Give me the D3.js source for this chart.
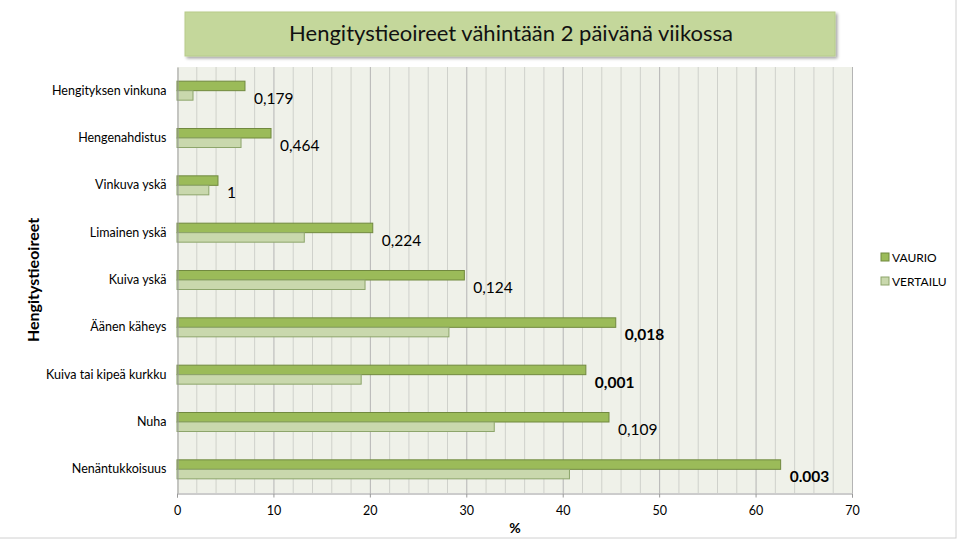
<!DOCTYPE html>
<html><head><meta charset="utf-8">
<script src="https://cdn.jsdelivr.net/npm/d3@7"></script>
<style>body{margin:0;background:#fff}svg{display:block}text{font-family:Lato,"Open Sans",sans-serif}</style>
</head><body><svg id="c" width="960" height="540"></svg>
<script>
const categories = ["Hengityksen vinkuna","Hengenahdistus","Vinkuva yskä","Limainen yskä","Kuiva yskä","Äänen käheys","Kuiva tai kipeä kurkku","Nuha","Nenäntukkoisuus"];
const seriesNames = ["VAURIO","VERTAILU"];
const vaurio = [7.05, 9.75, 4.25, 20.3, 29.8, 45.5, 42.4, 44.8, 62.6];
const vertailu = [1.66, 6.64, 3.3, 13.2, 19.5, 28.2, 19.1, 32.9, 40.7];
const pValues = ["0,179","0,464","1","0,224","0,124","0,018","0,001","0,109","0.003"];
const pBold = [false,false,false,false,false,true,true,false,true];
const xTicks = [0,10,20,30,40,50,60,70];
const title = "Hengitystieoireet vähintään 2 päivänä viikossa";
const yTitle = "Hengitystieoireet";
const xTitle = "%";

const svg = d3.select("#c");
const L=177, R=852, T=67, B=493;
const colors = {VAURIO:{fill:"#9bbb59",stroke:"#71893f"}, VERTAILU:{fill:"#c9d8ad",stroke:"#8da56b"}};

svg.append("rect").attr("x",-1).attr("y",-1).attr("width",957).attr("height",539).attr("fill","none").attr("stroke","#d0d0d0");

const x = d3.scaleLinear().domain([0,70]).range([L,R]);
const y = d3.scaleBand().domain(categories).range([T,B]);
const inner = d3.scaleBand().domain(seriesNames).range([0,19]);

svg.append("rect").attr("x",L).attr("y",T).attr("width",R-L).attr("height",B-T).attr("fill","#eff1e9");
svg.append("g").selectAll("line").data(d3.range(2,70,2).filter(v=>v%10!==0)).join("line")
  .attr("x1",d=>x(d)+0.5).attr("x2",d=>x(d)+0.5).attr("y1",T).attr("y2",B).attr("stroke","#cfd1cb");
svg.append("g").selectAll("line").data(xTicks.slice(1)).join("line")
  .attr("x1",d=>x(d)+0.5).attr("x2",d=>x(d)+0.5).attr("y1",T).attr("y2",B).attr("stroke","#b4b4b4");

const rows = categories.map((c,i)=>({c, VAURIO:vaurio[i], VERTAILU:vertailu[i], p:pValues[i], b:pBold[i]}));
const g = svg.append("g");
seriesNames.forEach(s=>{
  g.selectAll("rect."+s).data(rows).join("rect").attr("class",s)
    .attr("x",x(0)).attr("y",d=>y(d.c)+y.bandwidth()/2-9.5+inner(s))
    .attr("width",d=>x(d[s])-x(0)).attr("height",inner.bandwidth())
    .attr("fill",colors[s].fill).attr("stroke",colors[s].stroke).attr("stroke-width",1);
});

svg.append("g").selectAll("text").data(rows).join("text")
  .attr("x",d=>x(Math.max(d.VAURIO,d.VERTAILU))+9)
  .attr("y",d=>y(d.c)+y.bandwidth()/2+13)
  .attr("font-size",15.5).attr("font-weight",d=>d.b?"bold":"normal").attr("fill","#000")
  .text(d=>d.p);

const xa = svg.append("g").attr("transform",`translate(0,${B+0.5})`)
  .call(d3.axisBottom(x).tickValues(xTicks).tickSize(4).tickPadding(9).tickFormat(d3.format("d")));
xa.select(".domain").attr("stroke","#999");
xa.selectAll(".tick line").attr("stroke","#999");
xa.selectAll("text").attr("font-size",12.5).attr("fill","#000").attr("font-family","Lato,sans-serif");

const ya = svg.append("g").attr("transform",`translate(${L+0.5},0)`)
  .call(d3.axisLeft(y).tickSize(0).tickPadding(11));
ya.select(".domain").attr("stroke","#999");
ya.selectAll("text").attr("font-size",12.5).attr("fill","#000").attr("font-family","Lato,sans-serif");

svg.append("text").attr("x",515).attr("y",533).attr("text-anchor","middle").attr("font-size",14).attr("font-weight","bold").text(xTitle);
svg.append("text").attr("transform","translate(39,280) rotate(-90)").attr("text-anchor","middle").attr("font-size",16).attr("font-weight","bold").text(yTitle);

const defs = svg.append("defs");
const f = defs.append("filter").attr("id","sh").attr("x","-5%").attr("y","-20%").attr("width","110%").attr("height","150%");
f.append("feDropShadow").attr("dx",2).attr("dy",2).attr("stdDeviation",1.5).attr("flood-color","#000").attr("flood-opacity",0.35);
svg.append("rect").attr("x",185).attr("y",12).attr("width",650).attr("height",44).attr("fill","#c4d79b").attr("stroke","#b7cc8a").attr("filter","url(#sh)");
svg.append("text").attr("x",511).attr("y",41).attr("text-anchor","middle").attr("font-size",22).attr("fill","#111").text(title);

const lg = svg.append("g");
seriesNames.forEach((s,i)=>{
  const yy = 257 + i*24;
  lg.append("rect").attr("x",881).attr("y",yy-4).attr("width",8).attr("height",8).attr("fill",colors[s].fill).attr("stroke",colors[s].stroke);
  lg.append("text").attr("x",892).attr("y",yy+4.5).attr("font-size",12).attr("fill","#000").text(s);
});
</script></body></html>
